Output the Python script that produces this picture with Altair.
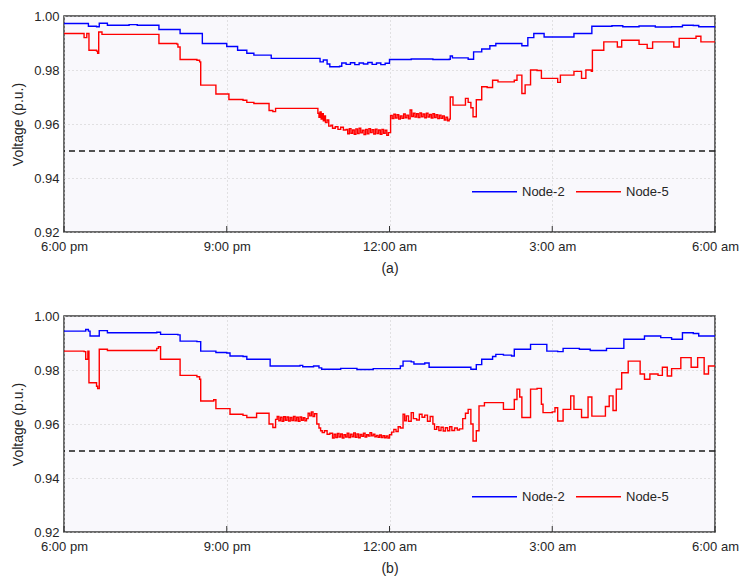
import altair as alt
import pandas as pd

# ---------------- data (hours after 6:00 pm, voltage p.u.) ----------------
tick_hours = [0, 3, 6, 9, 12]
tick_labels = ["6:00 pm", "9:00 pm", "12:00 am", "3:00 am", "6:00 am"]
y_ticks = [0.92, 0.94, 0.96, 0.98, 1.00]
limit_value = [0.95]
series_names = ["Node-2", "Node-5"]
series_colors = ["#0000ff", "#ff0000"]

a_node2 = [
    (0, 0.9972), (0.40, 0.9972), (0.45, 0.9962), (0.60, 0.9960), (0.65, 0.9973),
    (0.75, 0.9973), (0.80, 0.9966), (1.20, 0.9968), (1.35, 0.9966), (1.75, 0.9950),
    (2.14, 0.9935), (2.55, 0.9898), (3.00, 0.9887), (3.20, 0.9873), (3.37, 0.9862),
    (3.50, 0.9855), (3.82, 0.9843), (4.66, 0.9843), (4.72, 0.9830), (4.78, 0.9837),
    (4.85, 0.9822), (4.90, 0.9812), (5.08, 0.9814), (5.12, 0.9826), (5.20, 0.9821),
    (5.28, 0.9827), (5.36, 0.9820), (5.44, 0.9826), (5.52, 0.9822), (5.60, 0.9828),
    (5.68, 0.9821), (5.76, 0.9826), (5.84, 0.9820), (5.92, 0.9825), (6.00, 0.9839),
    (6.40, 0.9841), (6.80, 0.9839), (7.10, 0.9840), (7.12, 0.9852), (7.16, 0.9845),
    (7.40, 0.9845), (7.45, 0.9840), (7.55, 0.9867), (7.70, 0.9878), (7.85, 0.9890),
    (7.96, 0.9898), (8.40, 0.9898), (8.44, 0.9890), (8.55, 0.9920), (8.66, 0.9935),
    (8.85, 0.9922), (9.40, 0.9935), (9.73, 0.9962), (10.10, 0.9964), (10.30, 0.9960),
    (10.60, 0.9963), (10.90, 0.9959), (11.20, 0.9960), (11.40, 0.9966), (11.60, 0.9965),
    (11.70, 0.9960), (12.00, 0.9960),
]

a_node5 = [
    (0, 0.9935), (0.35, 0.9935), (0.37, 0.9920), (0.42, 0.9935), (0.46, 0.9873),
    (0.60, 0.9870), (0.62, 0.9862), (0.64, 0.9941), (0.70, 0.9932), (1.71, 0.9932),
    (1.75, 0.9898), (2.08, 0.9896), (2.10, 0.9885), (2.14, 0.9839), (2.45, 0.9836),
    (2.50, 0.9830), (2.52, 0.9744), (2.80, 0.9711), (3.04, 0.9691), (3.30, 0.9688),
    (3.37, 0.9680), (3.50, 0.9676), (3.78, 0.9650), (3.85, 0.9646), (3.90, 0.9658),
    (4.66, 0.9658), (4.68, 0.9640), (4.70, 0.9625), (4.72, 0.9645), (4.74, 0.9618),
    (4.76, 0.9638), (4.78, 0.9612), (4.80, 0.9630), (4.82, 0.9605), (4.85, 0.9615),
    (4.88, 0.9592), (4.92, 0.9596), (4.95, 0.9584), (5.00, 0.9590), (5.05, 0.9580),
    (5.10, 0.9588), (5.15, 0.9578), (5.20, 0.9580), (5.23, 0.9564), (5.26, 0.9583),
    (5.29, 0.9566), (5.32, 0.9578), (5.35, 0.9562), (5.38, 0.9582), (5.41, 0.9565),
    (5.44, 0.9584), (5.47, 0.9567), (5.50, 0.9577), (5.53, 0.9561), (5.56, 0.9580),
    (5.59, 0.9564), (5.62, 0.9583), (5.65, 0.9568), (5.68, 0.9579), (5.71, 0.9563),
    (5.74, 0.9581), (5.77, 0.9565), (5.80, 0.9578), (5.83, 0.9562), (5.86, 0.9580),
    (5.89, 0.9566), (5.92, 0.9577), (5.95, 0.9558), (5.98, 0.9568), (6.02, 0.9632),
    (6.05, 0.9620), (6.08, 0.9636), (6.11, 0.9622), (6.14, 0.9634), (6.17, 0.9618),
    (6.20, 0.9630), (6.23, 0.9621), (6.26, 0.9637), (6.29, 0.9623), (6.32, 0.9633),
    (6.35, 0.9619), (6.38, 0.9652), (6.41, 0.9628), (6.44, 0.9640), (6.47, 0.9626),
    (6.50, 0.9638), (6.53, 0.9624), (6.56, 0.9641), (6.59, 0.9627), (6.62, 0.9637),
    (6.65, 0.9623), (6.68, 0.9640), (6.71, 0.9626), (6.74, 0.9635), (6.77, 0.9622),
    (6.80, 0.9638), (6.83, 0.9624), (6.86, 0.9634), (6.89, 0.9620), (6.92, 0.9633),
    (6.95, 0.9621), (6.98, 0.9630), (7.01, 0.9615), (7.04, 0.9625), (7.07, 0.9612),
    (7.10, 0.9618), (7.12, 0.9700), (7.17, 0.9670), (7.35, 0.9670), (7.40, 0.9695),
    (7.45, 0.9680), (7.50, 0.9660), (7.54, 0.9627), (7.60, 0.9690), (7.70, 0.9738),
    (7.80, 0.9735), (7.90, 0.9762), (8.00, 0.9756), (8.20, 0.9756), (8.30, 0.9762),
    (8.35, 0.9781), (8.44, 0.9713), (8.50, 0.9745), (8.60, 0.9800), (8.72, 0.9798),
    (8.80, 0.9769), (9.03, 0.9769), (9.10, 0.9754), (9.15, 0.9781), (9.34, 0.9781),
    (9.40, 0.9795), (9.54, 0.9769), (9.62, 0.9800), (9.72, 0.9795), (9.74, 0.9873),
    (9.90, 0.9873), (9.95, 0.9904), (10.10, 0.9904), (10.20, 0.9885), (10.28, 0.9910),
    (10.56, 0.9910), (10.60, 0.9895), (10.75, 0.9880), (10.85, 0.9904), (11.15, 0.9904),
    (11.24, 0.9885), (11.34, 0.9917), (11.60, 0.9917), (11.65, 0.9925), (11.74, 0.9904),
    (12.00, 0.9904),
]

b_node2 = [
    (0, 0.9944), (0.37, 0.9944), (0.40, 0.9950), (0.45, 0.9944), (0.48, 0.9926),
    (0.61, 0.9926), (0.65, 0.9946), (0.75, 0.9946), (0.80, 0.9938), (1.71, 0.9940),
    (1.78, 0.9932), (2.10, 0.9930), (2.14, 0.9907), (2.45, 0.9905), (2.52, 0.9870),
    (2.80, 0.9865), (3.00, 0.9863), (3.06, 0.9852), (3.30, 0.9850), (3.37, 0.9840),
    (3.80, 0.9815), (4.35, 0.9817), (4.40, 0.9812), (4.60, 0.9815), (4.70, 0.9808),
    (4.75, 0.9803), (5.10, 0.9806), (5.40, 0.9802), (5.70, 0.9805), (6.13, 0.9805),
    (6.20, 0.9815), (6.25, 0.9833), (6.40, 0.9830), (6.45, 0.9822), (6.65, 0.9826),
    (6.73, 0.9810), (7.35, 0.9810), (7.50, 0.9803), (7.60, 0.9820), (7.70, 0.9840),
    (7.90, 0.9850), (7.96, 0.9858), (8.10, 0.9855), (8.25, 0.9852), (8.30, 0.9877),
    (8.43, 0.9877), (8.60, 0.9895), (8.80, 0.9895), (8.90, 0.9870), (9.10, 0.9868),
    (9.20, 0.9880), (9.50, 0.9877), (9.70, 0.9872), (10.00, 0.9880), (10.26, 0.9880),
    (10.32, 0.9914), (10.55, 0.9914), (10.70, 0.9926), (11.00, 0.9920), (11.20, 0.9914),
    (11.40, 0.9938), (11.60, 0.9935), (11.70, 0.9926), (12.00, 0.9926),
]

b_node5 = [
    (0, 0.9870), (0.37, 0.9868), (0.40, 0.9840), (0.44, 0.9870), (0.46, 0.9753),
    (0.60, 0.9740), (0.62, 0.9731), (0.65, 0.9877), (0.80, 0.9872), (1.71, 0.9880),
    (1.74, 0.9886), (1.78, 0.9840), (2.10, 0.9840), (2.14, 0.9780), (2.45, 0.9775),
    (2.50, 0.9766), (2.52, 0.9685), (2.76, 0.9690), (2.80, 0.9657), (3.06, 0.9636),
    (3.30, 0.9632), (3.37, 0.9624), (3.55, 0.9640), (3.74, 0.9640), (3.78, 0.9600),
    (3.85, 0.9587), (3.90, 0.9617), (3.93, 0.9628), (3.96, 0.9612), (3.99, 0.9625),
    (4.02, 0.9610), (4.05, 0.9627), (4.08, 0.9614), (4.11, 0.9626), (4.14, 0.9611),
    (4.17, 0.9624), (4.20, 0.9613), (4.23, 0.9628), (4.26, 0.9612), (4.29, 0.9625),
    (4.32, 0.9610), (4.35, 0.9626), (4.38, 0.9614), (4.41, 0.9623), (4.44, 0.9612),
    (4.47, 0.9620), (4.50, 0.9640), (4.53, 0.9630), (4.56, 0.9645), (4.59, 0.9628),
    (4.62, 0.9638), (4.66, 0.9600), (4.70, 0.9585), (4.73, 0.9575), (4.76, 0.9568),
    (4.80, 0.9575), (4.85, 0.9562), (4.90, 0.9566), (4.95, 0.9548), (4.98, 0.9562),
    (5.01, 0.9550), (5.04, 0.9565), (5.07, 0.9552), (5.10, 0.9563), (5.13, 0.9548),
    (5.16, 0.9560), (5.19, 0.9552), (5.22, 0.9566), (5.25, 0.9550), (5.28, 0.9562),
    (5.31, 0.9553), (5.34, 0.9567), (5.37, 0.9551), (5.40, 0.9563), (5.43, 0.9549),
    (5.46, 0.9561), (5.49, 0.9554), (5.52, 0.9566), (5.55, 0.9552), (5.58, 0.9560),
    (5.61, 0.9555), (5.64, 0.9568), (5.67, 0.9556), (5.70, 0.9562), (5.73, 0.9553),
    (5.76, 0.9558), (5.79, 0.9551), (5.82, 0.9559), (5.85, 0.9550), (5.88, 0.9557),
    (5.91, 0.9549), (5.94, 0.9556), (5.97, 0.9548), (6.00, 0.9560), (6.04, 0.9570),
    (6.08, 0.9580), (6.12, 0.9572), (6.16, 0.9590), (6.20, 0.9585), (6.25, 0.9636),
    (6.28, 0.9612), (6.31, 0.9630), (6.35, 0.9610), (6.40, 0.9642), (6.44, 0.9620),
    (6.50, 0.9615), (6.55, 0.9636), (6.60, 0.9625), (6.65, 0.9633), (6.70, 0.9610),
    (6.75, 0.9628), (6.80, 0.9600), (6.83, 0.9580), (6.87, 0.9590), (6.91, 0.9576),
    (6.95, 0.9588), (6.99, 0.9574), (7.03, 0.9586), (7.07, 0.9575), (7.11, 0.9590),
    (7.15, 0.9576), (7.20, 0.9585), (7.25, 0.9578), (7.29, 0.9582), (7.35, 0.9620),
    (7.40, 0.9640), (7.45, 0.9654), (7.50, 0.9600), (7.54, 0.9537), (7.60, 0.9575),
    (7.65, 0.9667), (7.75, 0.9679), (8.00, 0.9679), (8.10, 0.9654), (8.24, 0.9654),
    (8.30, 0.9691), (8.35, 0.9729), (8.40, 0.9700), (8.44, 0.9624), (8.53, 0.9624),
    (8.60, 0.9729), (8.72, 0.9732), (8.80, 0.9673), (8.83, 0.9642), (9.00, 0.9645),
    (9.05, 0.9660), (9.10, 0.9611), (9.20, 0.9654), (9.34, 0.9704), (9.40, 0.9654),
    (9.54, 0.9624), (9.66, 0.9700), (9.73, 0.9629), (9.90, 0.9629), (9.98, 0.9665),
    (10.05, 0.9704), (10.12, 0.9650), (10.18, 0.9729), (10.28, 0.9790), (10.40, 0.9833),
    (10.55, 0.9833), (10.62, 0.9785), (10.70, 0.9766), (10.80, 0.9785), (10.95, 0.9780),
    (11.03, 0.9810), (11.12, 0.9778), (11.20, 0.9805), (11.37, 0.9846), (11.50, 0.9846),
    (11.56, 0.9810), (11.68, 0.9846), (11.80, 0.9785), (11.88, 0.9815), (12.00, 0.9815),
]

# ---------------- build tables ----------------
def to_frame(node2, node5):
    rows = [{"hour": t, "volt": v, "series": "Node-2", "order": i} for i, (t, v) in enumerate(node2)]
    rows += [{"hour": t, "volt": v, "series": "Node-5", "order": i} for i, (t, v) in enumerate(node5)]
    return pd.DataFrame(rows)

label_expr = " : ".join(
    f"datum.value == {h} ? '{lab}'" for h, lab in zip(tick_hours, tick_labels)
) + " : ''"

W, H = 651, 216
FONT = "Liberation Sans"
TXT = "#262626"


def panel(df, caption, legend_y):
    x = alt.X(
        "hour:Q",
        scale=alt.Scale(domain=[0, 12], nice=False, zero=False),
        axis=alt.Axis(
            values=tick_hours, labelExpr=label_expr, title=caption,
            grid=True, gridDash=[1, 3], gridColor="#c8c8c8", gridWidth=1,
            ticks=False, domain=False, labelPadding=8, titlePadding=8,
            labelFlush=False, labelOverlap=False,
            labelFontSize=13, titleFontSize=14, titleFontWeight="normal",
            labelColor=TXT, titleColor=TXT, labelFont=FONT, titleFont=FONT,
        ),
    )
    y = alt.Y(
        "volt:Q",
        scale=alt.Scale(domain=[0.92, 1.0], nice=False, zero=False),
        axis=alt.Axis(
            values=y_ticks, format=".2f", title="Voltage (p.u.)",
            grid=True, gridDash=[1, 3], gridColor="#c8c8c8", gridWidth=1,
            ticks=False, domain=False, labelPadding=5, titlePadding=8,
            labelFlush=False,
            labelFontSize=13, titleFontSize=14, titleFontWeight="normal",
            labelColor=TXT, titleColor=TXT, labelFont=FONT, titleFont=FONT,
        ),
    )
    lines = alt.Chart(df).mark_line(strokeWidth=1.4, interpolate="step-after").encode(
        x=x,
        y=y,
        order="order:Q",
        color=alt.Color(
            "series:N",
            scale=alt.Scale(domain=series_names, range=series_colors),
            legend=alt.Legend(
                title=None, orient="none", legendX=407, legendY=legend_y,
                direction="horizontal", symbolType="stroke", symbolSize=2025,
                symbolStrokeWidth=1.5, labelFontSize=13, labelFont=FONT,
                labelColor=TXT, labelOffset=4, columnPadding=8,
            ),
        ),
    )
    limit = alt.Chart(pd.DataFrame({"v": limit_value})).mark_rule(
        color="#1a1a1a", strokeWidth=1.4, strokeDash=[6, 4]
    ).encode(y="v:Q")
    ticks = alt.Chart(pd.DataFrame({"h": tick_hours})).mark_rule(
        color="#333333", strokeWidth=1
    ).encode(x="h:Q", y=alt.value(H), y2=alt.value(H - 6))
    return alt.layer(limit, ticks, lines).properties(width=W, height=H)


top = panel(to_frame(a_node2, a_node5), "(a)", 152)
bottom = panel(to_frame(b_node2, b_node5), "(b)", 157)

chart = (
    alt.vconcat(top, bottom, spacing=33)
    .resolve_legend(color="independent")
    .properties(padding={"left": 2, "top": 1, "right": 0, "bottom": 0})
    .configure_view(fill="#f9f8fc", stroke="#3a3a3a", strokeWidth=1.5)
)

chart.save("out.html", embed_options={"renderer": "svg", "actions": False})
